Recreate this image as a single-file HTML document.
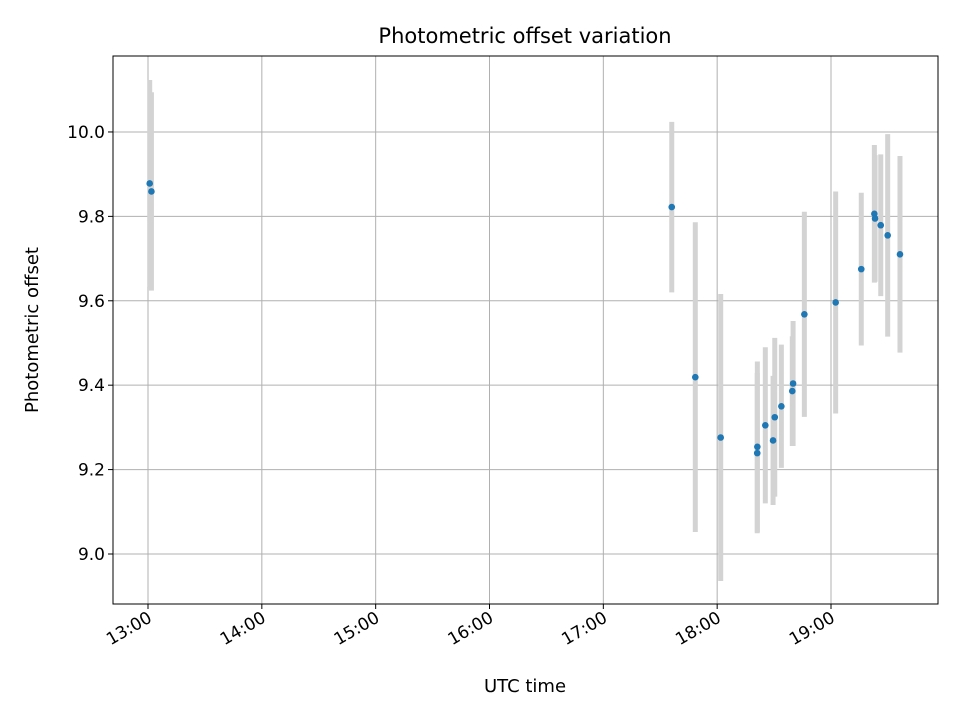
<!DOCTYPE html>
<html><head><meta charset="utf-8"><style>
body{margin:0;background:#fff}
svg text{font-family:"DejaVu Sans","Liberation Sans",sans-serif;fill:#000}
</style></head><body>
<svg id="chart" width="960" height="720" viewBox="0 0 960 720" xmlns="http://www.w3.org/2000/svg">
<rect width="960" height="720" fill="#fff"/>
<g id="grid"></g>
<g id="errs"></g>
<g id="pts"></g>
<rect x="113" y="56" width="825" height="548" fill="none" stroke="#000" stroke-width="1"/>
<g id="xt"></g>
<g id="yt"></g>
<text x="525" y="43" font-size="21" text-anchor="middle">Photometric offset variation</text>
<text x="525" y="692" font-size="18" text-anchor="middle">UTC time</text>
<text x="38" y="330" font-size="18" text-anchor="middle" transform="rotate(-90 38 330)">Photometric offset</text>
</svg>
<script>
const times=[13.015,13.03,17.601,17.808,18.031,18.353,18.352,18.423,18.491,18.506,18.564,18.667,18.660,18.766,19.041,19.266,19.381,19.387,19.437,19.498,19.606];
const offsets=[9.878,9.859,9.822,9.419,9.276,9.254,9.239,9.305,9.269,9.324,9.350,9.404,9.386,9.568,9.596,9.675,9.806,9.795,9.779,9.755,9.710];
const errors=[0.245,0.235,0.202,0.367,0.340,0.202,0.19,0.185,0.153,0.188,0.146,0.148,0.13,0.243,0.263,0.181,0.163,0.15,0.168,0.240,0.233];
const xTicks=[13,14,15,16,17,18,19];
const xTickLabels=["13:00","14:00","15:00","16:00","17:00","18:00","19:00"];
const yTicks=[9.0,9.2,9.4,9.6,9.8,10.0];
const yTickLabels=["9.0","9.2","9.4","9.6","9.8","10.0"];
const X0=12.6925,X1=19.940,Y0=8.8815,Y1=10.180;
const L=113,R=938,T=56,B=604;
function sx(h){return L+(h-X0)/(X1-X0)*(R-L);}
function sy(v){return B-(v-Y0)/(Y1-Y0)*(B-T);}
const NS="http://www.w3.org/2000/svg";
function mk(tag,parent,attrs){const e=document.createElementNS(NS,tag);for(const k in attrs)e.setAttribute(k,attrs[k]);document.getElementById(parent).appendChild(e);return e;}
xTicks.forEach((t,i)=>{
 const x=sx(t);
 const g=mk('line','grid',{x1:x,x2:x,y1:T,y2:B,stroke:'#b0b0b0','stroke-width':1});
 
 
 const tk=mk('line','xt',{x1:x,x2:x,y1:B,y2:B+5,stroke:'#000'});
 
 
 const tx=mk('text','xt',{x:x+5,y:B+17,'font-size':17,'text-anchor':'end',transform:`rotate(-30 ${x+5} ${B+17})`});
 tx.textContent=xTickLabels[i];
 
 
});
yTicks.forEach((t,i)=>{
 const y=sy(t);
 const g=mk('line','grid',{x1:L,x2:R,y1:y,y2:y,stroke:'#b0b0b0','stroke-width':1});
 
 
 const tk=mk('line','yt',{x1:L-5,x2:L,y1:y,y2:y,stroke:'#000'});
 
 
 const tx=mk('text','yt',{x:L-8,y:y+6,'font-size':17,'text-anchor':'end'});
 tx.textContent=yTickLabels[i];
 
 
});
times.forEach((t,i)=>{
 const x=sx(t);
 const e=mk('line','errs',{x1:x,x2:x,y1:sy(offsets[i]+errors[i]),y2:sy(offsets[i]-errors[i]),stroke:'#d3d3d3','stroke-width':5});
 
 
});
times.forEach((t,i)=>{
 const c=mk('circle','pts',{cx:sx(t),cy:sy(offsets[i]),r:3.3,fill:'#1f77b4'});
 
 
});
</script>
</body></html>
